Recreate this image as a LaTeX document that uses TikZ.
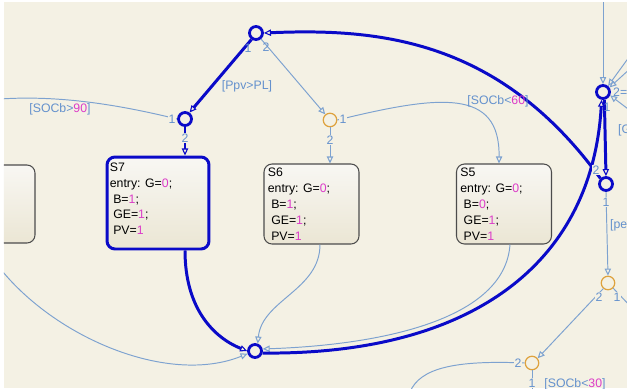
\documentclass[tikz,border=0pt]{standalone}
\usepackage{fontspec}
\setmainfont{Liberation Sans}
\usetikzlibrary{arrows.meta,positioning}
\definecolor{bg}{RGB}{244,241,228}
\definecolor{sfblue}{RGB}{10,10,200}
\definecolor{thin}{RGB}{125,162,208}
\definecolor{lbl}{RGB}{100,145,205}
\definecolor{num}{RGB}{220,60,200}
\definecolor{jor}{RGB}{222,162,62}
\definecolor{boxtop}{RGB}{248,247,243}
\definecolor{boxbot}{RGB}{235,230,212}
\newcommand{\nv}[1]{\textcolor{num}{#1}}

\begin{document}
\begin{tikzpicture}[x=0.02cm,y=-0.02cm,font=\fontsize{7}{9}\selectfont,>={Triangle[open,length=4pt,width=3.6pt,line width=0.6pt]},
  state/.style={draw=black!70,line width=0.6pt,rounded corners=0.16cm,top color=boxtop,bottom color=boxbot,minimum width=1.9cm,minimum height=1.6cm},
  act/.style={state,draw=sfblue,line width=1.7pt,minimum width=2.04cm,minimum height=1.84cm},
  stxt/.style={anchor=north west,inner sep=0pt,align=left},
  jn/.style={circle,draw=sfblue,line width=1.6pt,minimum size=0.26cm,inner sep=0pt},
  jo/.style={circle,draw=jor,line width=0.7pt,minimum size=0.27cm,inner sep=0pt},
  hot/.style={draw=sfblue,line width=1.7pt},
  tr/.style={draw=thin,line width=0.55pt},
  lab/.style={text=lbl,inner sep=0.5pt},
  nlab/.style={lab,fill=bg}]
\useasboundingbox (0,0) rectangle (627,390);
\fill[white] (0,0) rectangle (627,390);
\fill[bg] (4,2) rectangle (627,388);
\clip (4,2) rectangle (627,388);
% states
\node[state,minimum width=1.4cm,minimum height=1.56cm] (s8) at (0,204) {};
\node[act] (s7) at (158,203) {};
\node[stxt] (s7t) at ([xshift=0.08cm,yshift=-0.14cm]s7.north west) {S7\\entry: G=\nv{0};\\\ B=\nv{1};\\\ GE=\nv{1};\\\ PV=\nv{1}};
\node[state] (s6) at (311.5,204) {};
\node[stxt] (s6t) at ([xshift=0.08cm,yshift=-0.09cm]s6.north west) {S6\\entry: G=\nv{0};\\\ B=\nv{1};\\\ GE=\nv{1};\\\ PV=\nv{1}};
\node[state] (s5) at (504,204) {};
\node[stxt] (s5t) at ([xshift=0.08cm,yshift=-0.09cm]s5.north west) {S5\\entry: G=\nv{0};\\\ B=\nv{0};\\\ GE=\nv{1};\\\ PV=\nv{1}};
% junctions
\node[jn] (jtop) at (256,33) {};
\node[jn] (jppv) at (185,119) {};
\node[jo] (jsoc) at (330,120) {};
\node[jn] (jbot) at (255,351) {};
\node[jn] (jsys) at (603,92) {};
\node[jn] (jpeak) at (606,184) {};
\node[jo] (jg) at (608,283) {};
\node[jo] (jh) at (532,363) {};
% free ends
\coordinate (lin) at (3,272);
\coordinate (lout) at (0,99);
\coordinate (ctop) at (603,0);
\coordinate (cr1) at (632,53);
\coordinate (cr2) at (632,67);
\coordinate (cr3) at (632,112);
\coordinate (cg) at (634,310);
\coordinate (chl) at (410,392);
\coordinate (chd) at (532,392);
% thin transitions
\draw[tr,->] (jtop.-50) -- (jsoc.130);
\draw[tr,->] (jsoc.south) -- (jsoc |- s6.north);
\draw[tr,->] (jsoc.east) .. controls (440,95) and (500,88) .. ([xshift=-0.1cm]s5.north);
\draw[tr] (jppv.west) .. controls (120,105) and (60,95) .. (lout);
\draw[tr,->] ([xshift=0.17cm]s6.south) .. controls (320,290) and (262,300) .. (jbot.70);
\draw[tr,->] ([xshift=0.12cm]s5.south) .. controls (505,320) and (380,345) .. (jbot.15);
\draw[tr,->] (lin) .. controls (60,340) and (170,385) .. (jbot.200);
\draw[tr,->] (ctop) -- (jsys.north);
\draw[tr,->] (cr1) -- (jsys.50);
\draw[tr,->] (cr2) -- (jsys.35);
\draw[tr,->] (cr3) -- (jsys.-25);
\draw[tr,->] (jpeak.south) -- (jg.north);
\draw[tr,->] (jg.-130) -- (jh.40);
\draw[tr] (jg.-45) -- (cg);
\draw[tr] (jh.west) .. controls (455,360) and (420,368) .. (chl);
\draw[tr] (jh.south) -- (chd);
% active path
\draw[hot,->] (jtop.-125) -- (jppv.55);
\draw[hot,->] (jppv.south) -- (jppv |- s7.north);
\draw[hot,->] (jppv |- s7.south) .. controls (185,310) and (215,338) .. (jbot.180);
\draw[hot,->] (jbot.-15) .. controls (470,355) and (592,265) .. (jsys.-100);
\draw[hot,->] (jsys.-80) -- (jpeak.north);
\draw[hot,->] (jpeak.north west) .. controls (500,40) and (380,28) .. (jtop.east);
% execution order
\node[lab] (n1) at (248,48) {1};
\node[lab] (n2) at (266,47) {2};
\node[nlab] (n3) at (172,119) {1};
\node[nlab] (n4) at (185,138) {2};
\node[nlab] (n5) at (343,119) {1};
\node[nlab] (n6) at (330,140) {2};
\node[lab] (n7) at (607,107) {1};
\node[lab,anchor=west] (n8) at (612,92) {2=};
\node[nlab] (n9) at (596,170) {2};
\node[nlab] (n10) at (606,202) {1};
\node[nlab] (n11) at (599,297) {2};
\node[nlab] (n12) at (617,297) {1};
\node[nlab] (n13) at (518,363) {2};
\node[nlab] (n14) at (532,383) {1};
% guards
\node[lab] (g1) at (60,109) {[SOCb>\nv{90}]};
\node[lab] (g2) at (247,86) {[Ppv>PL]};
\node[lab] (g3) at (498,101) {[SOCb<\nv{60}]};
\node[lab,anchor=west] (g4) at (609,225) {[pea};
\node[lab,anchor=west] (g5) at (617,130) {[G};
\node[lab] (g6) at (575,384) {[SOCb<\nv{30}]};
\end{tikzpicture}
\end{document}
